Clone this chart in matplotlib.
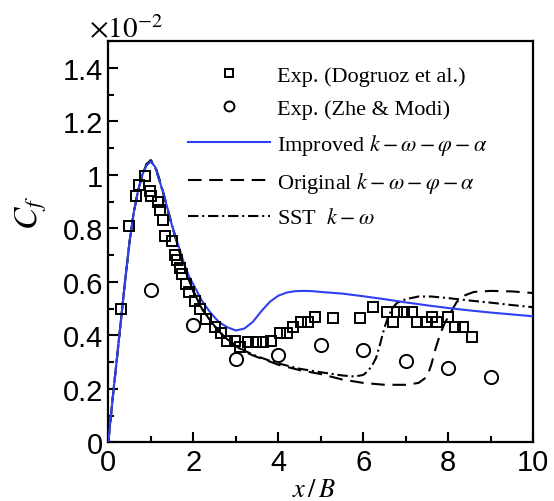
import matplotlib
matplotlib.use("Agg")
import matplotlib.pyplot as plt
from matplotlib.ticker import MultipleLocator, FormatStrFormatter

plt.rcParams['font.family'] = ['Liberation Sans', 'DejaVu Sans']
plt.rcParams['mathtext.fontset'] = 'stix'

# -------------------
# Data (Cf x 100)
# -------------------
exp_dog_x = [0.29, 0.49, 0.65, 0.73, 0.87, 0.97, 1.0, 1.18, 1.22, 1.29, 1.34, 1.50,
             1.58, 1.62, 1.69, 1.73, 1.83, 1.91, 2.04, 2.16, 2.30, 2.51, 2.65, 2.79,
             2.98, 3.10, 3.29, 3.48, 3.65, 3.84, 4.04, 4.20, 4.35, 4.53, 4.71, 4.86,
             5.29, 5.92, 6.24, 6.56, 6.69, 6.79, 6.96, 7.14, 7.27, 7.47, 7.61, 7.74,
             8.0, 8.16, 8.35, 8.55]
exp_dog_y = [0.50, 0.81, 0.92, 0.96, 0.995, 0.94, 0.92, 0.90, 0.867, 0.83, 0.773, 0.754,
             0.70, 0.68, 0.65, 0.63, 0.593, 0.56, 0.53, 0.497, 0.46, 0.43, 0.41, 0.38,
             0.38, 0.356, 0.374, 0.374, 0.374, 0.38, 0.41, 0.41, 0.43, 0.45, 0.45, 0.47,
             0.466, 0.464, 0.505, 0.487, 0.45, 0.487, 0.487, 0.487, 0.45, 0.45, 0.468, 0.45,
             0.468, 0.43, 0.43, 0.393]

exp_zhe_x = [1, 2, 3, 4, 5, 6, 7, 8, 9]
exp_zhe_y = [0.57, 0.44, 0.31, 0.327, 0.365, 0.345, 0.305, 0.277, 0.243]

imp_x = [0, 0.1, 0.2, 0.3, 0.4, 0.5, 0.6, 0.7, 0.8, 0.9, 1.0, 1.1, 1.2, 1.3, 1.4, 1.5,
         1.6, 1.7, 1.8, 1.9, 2.0, 2.2, 2.4, 2.6, 2.8, 3.0, 3.2, 3.4, 3.6, 3.8, 4.0, 4.2,
         4.4, 4.6, 4.8, 5.0, 5.5, 6.0, 6.5, 7.0, 7.5, 8.0, 8.5, 9.0, 9.5, 10.0]
imp_y = [0.0, 0.16, 0.31, 0.46, 0.61, 0.75, 0.86, 0.94, 1.0, 1.035, 1.05, 1.03, 0.98, 0.93,
         0.87, 0.81, 0.76, 0.71, 0.66, 0.62, 0.59, 0.53, 0.485, 0.45, 0.43, 0.418, 0.425,
         0.45, 0.49, 0.525, 0.548, 0.56, 0.565, 0.566, 0.565, 0.562, 0.556, 0.546, 0.535,
         0.523, 0.512, 0.502, 0.493, 0.485, 0.478, 0.471]

orig_x = [0, 0.1, 0.2, 0.3, 0.4, 0.5, 0.6, 0.7, 0.8, 0.9, 1.0, 1.1, 1.2, 1.3, 1.4, 1.5,
          1.6, 1.7, 1.8, 1.9, 2.0, 2.2, 2.4, 2.6, 2.8, 3.0, 3.2, 3.4, 3.6, 3.8, 4.0, 4.5,
          5.0, 5.5, 6.0, 6.5, 7.0, 7.3, 7.5, 7.6, 7.7, 7.8, 7.9, 8.0, 8.2, 8.4, 8.6, 9.0,
          9.5, 10.0]
orig_y = [0.0, 0.16, 0.31, 0.46, 0.61, 0.75, 0.86, 0.94, 1.0, 1.04, 1.055, 1.035, 0.985,
          0.93, 0.87, 0.81, 0.755, 0.70, 0.65, 0.605, 0.565, 0.50, 0.455, 0.415, 0.385,
          0.36, 0.34, 0.325, 0.313, 0.302, 0.29, 0.27, 0.255, 0.235, 0.222, 0.215, 0.215,
          0.222, 0.245, 0.29, 0.35, 0.40, 0.44, 0.47, 0.525, 0.55, 0.562, 0.566, 0.564,
          0.558]

sst_x = [0, 0.1, 0.2, 0.3, 0.4, 0.5, 0.6, 0.7, 0.8, 0.9, 1.0, 1.1, 1.2, 1.3, 1.4, 1.5,
         1.6, 1.7, 1.8, 1.9, 2.0, 2.2, 2.4, 2.6, 2.8, 3.0, 3.2, 3.4, 3.6, 3.8, 4.0, 4.5,
         5.0, 5.5, 5.8, 6.0, 6.1, 6.2, 6.3, 6.4, 6.5, 6.6, 6.7, 6.8, 7.0, 7.3, 7.6, 8.0,
         8.5, 9.0, 9.5, 10.0]
sst_y = [0.0, 0.16, 0.31, 0.46, 0.61, 0.75, 0.86, 0.94, 1.0, 1.04, 1.05, 1.03, 0.98,
         0.925, 0.865, 0.81, 0.755, 0.70, 0.65, 0.605, 0.565, 0.50, 0.455, 0.415, 0.385,
         0.362, 0.343, 0.328, 0.316, 0.305, 0.295, 0.275, 0.262, 0.25, 0.246, 0.252,
         0.265, 0.285, 0.315, 0.37, 0.43, 0.475, 0.505, 0.522, 0.535, 0.545, 0.545,
         0.539, 0.53, 0.522, 0.513, 0.505]

# -------------------
# Figure
# -------------------
fig = plt.figure(figsize=(5.54, 5.02), dpi=100)
ax = fig.add_axes([0.1955, 0.1169, 0.7671, 0.7994])

ax.plot(exp_dog_x, exp_dog_y, linestyle='none', marker='s', markersize=7.5,
        markerfacecolor='none', markeredgecolor='black', markeredgewidth=1.4,
        label='Exp. (Dogruoz et al.)', zorder=4)
ax.plot(exp_zhe_x, exp_zhe_y, linestyle='none', marker='o', markersize=9.5,
        markerfacecolor='none', markeredgecolor='black', markeredgewidth=1.4,
        label='Exp. (Zhe & Modi)', zorder=4)
ax.plot(imp_x, imp_y, color='#3040f0', lw=1.5,
        label=r'Improved $k-\omega-\varphi-\alpha$', zorder=3)
ax.plot(orig_x, orig_y, color='black', lw=1.5, linestyle=(0, (6.5, 3.7)),
        label=r'Original $k-\omega-\varphi-\alpha$', zorder=2)
ax.plot(sst_x, sst_y, color='black', lw=1.5, linestyle=(0, (5, 1.8, 1, 1.8)),
        label=r'SST  $k-\omega$', zorder=2)

ax.set_xlim(0, 10)
ax.set_ylim(0, 1.5)
ax.xaxis.set_major_locator(MultipleLocator(2))
ax.xaxis.set_minor_locator(MultipleLocator(1))
ax.yaxis.set_major_locator(MultipleLocator(0.2))
ax.yaxis.set_minor_locator(MultipleLocator(0.1))
ax.xaxis.set_major_formatter(FormatStrFormatter('%g'))
ax.yaxis.set_major_formatter(FormatStrFormatter('%g'))
ax.tick_params(which='both', direction='in', width=1.5, labelsize=21,
               top=False, right=False)
ax.tick_params(which='major', length=7, pad=4)
ax.tick_params(which='minor', length=4.5)
for s in ax.spines.values():
    s.set_linewidth(1.6)

ax.set_xlabel(r'$x\,/\,B$', fontsize=19)
ax.xaxis.set_label_coords(0.484, -0.087)
ax.set_ylabel(r'$C_f$', fontsize=24)
ax.yaxis.set_label_coords(-0.14, 0.575)

ax.text(-0.045, 0.995, r'$\times10^{-2}$', transform=ax.transAxes, fontsize=21,
        ha='left', va='bottom')

ax.legend(loc='upper left', bbox_to_anchor=(0.1875, 0.94), frameon=False,
          prop={'family': 'Liberation Serif', 'size': 16}, handlelength=3.7,
          handletextpad=0.3, labelspacing=0.58, borderaxespad=0, borderpad=0,
          markerscale=0.75)

fig.savefig('out.png', dpi=100)
